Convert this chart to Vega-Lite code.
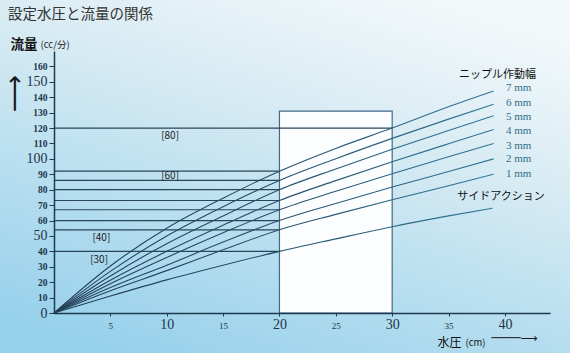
{
  "$schema": "https://vega.github.io/schema/vega-lite/v6.json",
  "width": 496,
  "height": 262,
  "autosize": {"type": "none"},
  "padding": {"left": 54, "top": 51, "right": 20, "bottom": 40},
  "background": "#cfe7f1",
  "title": {"text": "設定水圧と流量の関係", "anchor": "start", "frame": "group", "dx": -46, "offset": -25, "font": "Noto Sans CJK JP", "fontSize": 14.5, "fontWeight": "normal", "color": "#333333"},
  "config": {"view": {"stroke": null}, "axis": {"grid": false, "zindex": 1}},
  "datasets": {
    "curves": [
      {"s": "7 mm", "x": 0, "y": 0}, {"s": "7 mm", "x": 5, "y": 30.5}, {"s": "7 mm", "x": 10, "y": 55}, {"s": "7 mm", "x": 15, "y": 74.5}, {"s": "7 mm", "x": 20, "y": 92}, {"s": "7 mm", "x": 25, "y": 106.8}, {"s": "7 mm", "x": 30, "y": 120}, {"s": "7 mm", "x": 35, "y": 133.8}, {"s": "7 mm", "x": 39, "y": 144},
      {"s": "6 mm", "x": 0, "y": 0}, {"s": "6 mm", "x": 5, "y": 27}, {"s": "6 mm", "x": 10, "y": 50}, {"s": "6 mm", "x": 15, "y": 69}, {"s": "6 mm", "x": 20, "y": 86}, {"s": "6 mm", "x": 25, "y": 100.1}, {"s": "6 mm", "x": 30, "y": 113.3}, {"s": "6 mm", "x": 35, "y": 125.8}, {"s": "6 mm", "x": 39, "y": 135.5},
      {"s": "5 mm", "x": 0, "y": 0}, {"s": "5 mm", "x": 5, "y": 24}, {"s": "5 mm", "x": 10, "y": 45}, {"s": "5 mm", "x": 15, "y": 63}, {"s": "5 mm", "x": 20, "y": 80}, {"s": "5 mm", "x": 25, "y": 93.5}, {"s": "5 mm", "x": 30, "y": 106.3}, {"s": "5 mm", "x": 35, "y": 118.4}, {"s": "5 mm", "x": 39, "y": 128},
      {"s": "4 mm", "x": 0, "y": 0}, {"s": "4 mm", "x": 5, "y": 21.3}, {"s": "4 mm", "x": 10, "y": 40}, {"s": "4 mm", "x": 15, "y": 57}, {"s": "4 mm", "x": 20, "y": 73}, {"s": "4 mm", "x": 25, "y": 85.9}, {"s": "4 mm", "x": 30, "y": 98.1}, {"s": "4 mm", "x": 35, "y": 109.8}, {"s": "4 mm", "x": 39, "y": 119},
      {"s": "3 mm", "x": 0, "y": 0}, {"s": "3 mm", "x": 5, "y": 19}, {"s": "3 mm", "x": 10, "y": 36}, {"s": "3 mm", "x": 15, "y": 52}, {"s": "3 mm", "x": 20, "y": 67}, {"s": "3 mm", "x": 25, "y": 79}, {"s": "3 mm", "x": 30, "y": 90.4}, {"s": "3 mm", "x": 35, "y": 101.4}, {"s": "3 mm", "x": 39, "y": 110},
      {"s": "2 mm", "x": 0, "y": 0}, {"s": "2 mm", "x": 5, "y": 16.5}, {"s": "2 mm", "x": 10, "y": 31}, {"s": "2 mm", "x": 15, "y": 46}, {"s": "2 mm", "x": 20, "y": 60}, {"s": "2 mm", "x": 25, "y": 71.1}, {"s": "2 mm", "x": 30, "y": 81.7}, {"s": "2 mm", "x": 35, "y": 91.8}, {"s": "2 mm", "x": 39, "y": 100},
      {"s": "1 mm", "x": 0, "y": 0}, {"s": "1 mm", "x": 5, "y": 14.5}, {"s": "1 mm", "x": 10, "y": 27.5}, {"s": "1 mm", "x": 15, "y": 41}, {"s": "1 mm", "x": 20, "y": 54}, {"s": "1 mm", "x": 25, "y": 64}, {"s": "1 mm", "x": 30, "y": 73.5}, {"s": "1 mm", "x": 35, "y": 82.6}, {"s": "1 mm", "x": 39, "y": 90},
      {"s": "side", "x": 0, "y": 0}, {"s": "side", "x": 5, "y": 11}, {"s": "side", "x": 10, "y": 21.5}, {"s": "side", "x": 15, "y": 31}, {"s": "side", "x": 20, "y": 40}, {"s": "side", "x": 25, "y": 48.1}, {"s": "side", "x": 30, "y": 56}, {"s": "side", "x": 35, "y": 63}, {"s": "side", "x": 38.9, "y": 68}
    ],
    "hlines": [
      {"y": 40, "x0": 0, "x1": 20}, {"y": 54, "x0": 0, "x1": 20}, {"y": 60, "x0": 0, "x1": 20}, {"y": 67, "x0": 0, "x1": 20},
      {"y": 73, "x0": 0, "x1": 20}, {"y": 80, "x0": 0, "x1": 20}, {"y": 86, "x0": 0, "x1": 20}, {"y": 92, "x0": 0, "x1": 20},
      {"y": 120, "x0": 0, "x1": 30}
    ],
    "box": [{"x0": 20, "x1": 30, "y0": 0, "y1": 131}],
    "brackets": [
      {"t": "[80]", "x": 10.3, "y": 114.8}, {"t": "[60]", "x": 10.3, "y": 88.9},
      {"t": "[40]", "x": 4.2, "y": 48.5}, {"t": "[30]", "x": 4.0, "y": 34.4}
    ],
    "ends": [
      {"t": "7 mm", "x": 40.1, "y": 145.9}, {"t": "6 mm", "x": 40.1, "y": 136.5}, {"t": "5 mm", "x": 40.1, "y": 127.5},
      {"t": "4 mm", "x": 40.1, "y": 118.2}, {"t": "3 mm", "x": 40.1, "y": 108.6}, {"t": "2 mm", "x": 40.1, "y": 99.8},
      {"t": "1 mm", "x": 40.1, "y": 90.3}
    ],
    "heads": [
      {"t": "ニップル作動幅", "x": 39.35, "y": 154.5},
      {"t": "サイドアクション", "x": 39.66, "y": 75.3}
    ]
  },
  "layer": [
    {
      "data": {"values": [{}]},
      "mark": {"type": "rect", "clip": false, "color": {"gradient": "linear", "x1": 0.75, "y1": 0, "x2": 0.25, "y2": 1, "stops": [{"offset": 0, "color": "#f3f8fa"}, {"offset": 0.35, "color": "#d7ebf3"}, {"offset": 0.7, "color": "#b4ddef"}, {"offset": 1, "color": "#98d1eb"}]}},
      "encoding": {
        "x": {"datum": -5, "type": "quantitative", "scale": {"domain": [0, 44], "nice": false, "zero": false}, "axis": null},
        "x2": {"datum": 46},
        "y": {"datum": -27, "type": "quantitative", "scale": {"domain": [0, 170], "nice": false, "zero": false}, "axis": null},
        "y2": {"datum": 205}
      }
    },
    {
      "data": {"name": "box"},
      "mark": {"type": "rect", "fill": "#fbfdfe", "stroke": "#3f6a88", "strokeWidth": 1.2},
      "encoding": {
        "x": {"field": "x0", "type": "quantitative", "scale": {"domain": [0, 44], "nice": false, "zero": false}, "axis": null},
        "x2": {"field": "x1"},
        "y": {"field": "y0", "type": "quantitative", "scale": {"domain": [0, 170], "nice": false, "zero": false}, "axis": null},
        "y2": {"field": "y1"}
      }
    },
    {
      "data": {"name": "hlines"},
      "mark": {"type": "rule", "color": "#2a4559", "strokeWidth": 1.2},
      "encoding": {
        "x": {"field": "x0", "type": "quantitative", "scale": {"domain": [0, 44], "nice": false, "zero": false}, "axis": null},
        "x2": {"field": "x1"},
        "y": {"field": "y", "type": "quantitative", "scale": {"domain": [0, 170], "nice": false, "zero": false}, "axis": null}
      }
    },
    {
      "data": {"name": "curves"},
      "mark": {"type": "line", "interpolate": "monotone", "strokeWidth": 1.1, "color": {"gradient": "linear", "x1": 0, "y1": 0, "x2": 1, "y2": 0, "stops": [{"offset": 0, "color": "#223d53"}, {"offset": 0.5, "color": "#274f69"}, {"offset": 1, "color": "#30789a"}]}},
      "encoding": {
        "x": {"field": "x", "type": "quantitative", "scale": {"domain": [0, 44], "nice": false, "zero": false},
          "axis": {"orient": "bottom", "zindex": 2, "values": [5, 10, 15, 20, 25, 30, 35, 40], "domainColor": "#1e3a4f", "domainWidth": 1.5, "tickColor": "#1e3a4f", "tickSize": 3,
            "labelFont": "Liberation Serif", "labelColor": "#1d3548", "labelBaseline": "alphabetic", "labelPadding": 12,
            "labelFontSize": {"condition": {"test": "datum.value % 10 === 0", "value": 14}, "value": 9},
            "title": "水圧", "titleFont": "Noto Sans CJK JP", "titleFontSize": 12, "titleFontWeight": "normal", "titleColor": "#111111",
            "titleX": 395, "titleY": 29, "titleAlign": "center", "titleBaseline": "middle", "titleAngle": 0}},
        "y": {"field": "y", "type": "quantitative", "scale": {"domain": [0, 170], "nice": false, "zero": false},
          "axis": {"orient": "left", "zindex": 2, "values": [0, 10, 20, 30, 40, 50, 60, 70, 80, 90, 100, 110, 120, 130, 140, 150, 160], "domainColor": "#1e3a4f", "domainWidth": 1.5, "tickColor": "#1e3a4f", "tickSize": 5, "labelPadding": 2,
            "labelFont": "Liberation Serif", "labelColor": "#1d3548",
            "labelFontSize": {"condition": {"test": "datum.value % 50 === 0", "value": 14}, "value": 9.5},
            "labelFontWeight": {"condition": {"test": "datum.value % 50 === 0", "value": "normal"}, "value": "bold"},
            "title": "流量", "titleFont": "Noto Sans CJK JP", "titleFontSize": 13.5, "titleFontWeight": "bold", "titleColor": "#111111",
            "titleX": -44, "titleY": -6.5, "titleAlign": "left", "titleBaseline": "middle", "titleAngle": 0}},
        "detail": {"field": "s"}
      }
    },
    {
      "data": {"name": "brackets"},
      "mark": {"type": "text", "font": "Noto Sans CJK JP", "fontSize": 10, "color": "#222222", "align": "center", "baseline": "middle"},
      "encoding": {
        "x": {"field": "x", "type": "quantitative", "scale": {"domain": [0, 44], "nice": false, "zero": false},
          "axis": {"orient": "bottom", "zindex": 2, "domain": false, "ticks": false, "labels": false, "title": "(cm)", "titleFont": "Noto Sans CJK JP", "titleFontSize": 9.5, "titleFontWeight": "normal", "titleColor": "#111111",
            "titleX": 421, "titleY": 29, "titleAlign": "center", "titleBaseline": "middle", "titleAngle": 0}},
        "y": {"field": "y", "type": "quantitative", "scale": {"domain": [0, 170], "nice": false, "zero": false},
          "axis": {"orient": "left", "zindex": 2, "domain": false, "ticks": false, "labels": false, "title": "(cc/分)", "titleFont": "Noto Sans CJK JP", "titleFontSize": 9.5, "titleFontWeight": "normal", "titleColor": "#222222",
            "titleX": -14, "titleY": -6.5, "titleAlign": "left", "titleBaseline": "middle", "titleAngle": 0}},
        "text": {"field": "t"}
      }
    },
    {
      "data": {"name": "ends"},
      "mark": {"type": "text", "font": "Liberation Serif", "fontSize": 11, "color": "#2e6d8a", "align": "left", "baseline": "middle"},
      "encoding": {
        "x": {"field": "x", "type": "quantitative", "scale": {"domain": [0, 44], "nice": false, "zero": false},
          "axis": {"orient": "bottom", "zindex": 2, "domain": false, "ticks": false, "labels": false, "title": "────⟶", "titleFont": "DejaVu Sans", "titleFontSize": 12, "titleFontWeight": "normal", "titleColor": "#1a1a1a",
            "titleX": 460, "titleY": 24.5, "titleAlign": "center", "titleBaseline": "middle", "titleAngle": 0}},
        "y": {"field": "y", "type": "quantitative", "scale": {"domain": [0, 170], "nice": false, "zero": false},
          "axis": {"orient": "left", "zindex": 2, "domain": false, "ticks": false, "labels": false, "title": "⟶", "titleFont": "DejaVu Sans", "titleFontSize": 26, "titleFontWeight": "normal", "titleColor": "#1a1a1a",
            "titleX": -40, "titleY": 42, "titleAlign": "center", "titleBaseline": "middle", "titleAngle": 270}},
        "text": {"field": "t"}
      }
    },
    {
      "data": {"name": "heads"},
      "mark": {"type": "text", "font": "Noto Sans CJK JP", "fontSize": 11, "color": "#111111", "align": "center", "baseline": "middle"},
      "encoding": {
        "x": {"field": "x", "type": "quantitative", "scale": {"domain": [0, 44], "nice": false, "zero": false}, "axis": null},
        "y": {"field": "y", "type": "quantitative", "scale": {"domain": [0, 170], "nice": false, "zero": false}, "axis": null},
        "text": {"field": "t"}
      }
    }
  ],
  "resolve": {"axis": {"x": "independent", "y": "independent"}}
}
